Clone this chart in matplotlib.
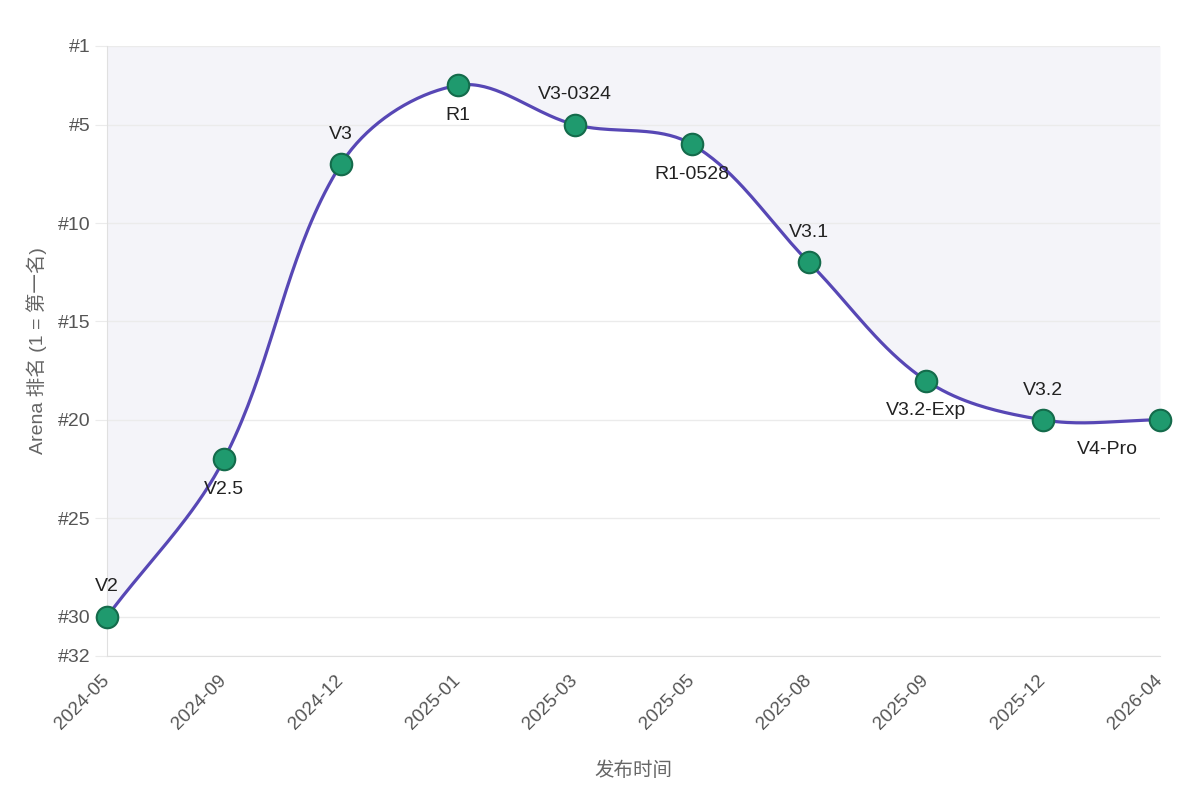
import numpy as np
import matplotlib
matplotlib.use('Agg')
import matplotlib.pyplot as plt

plt.rcParams['font.family'] = ['Liberation Sans', 'Noto Sans CJK SC', 'DejaVu Sans']

dates = ['2024-05', '2024-09', '2024-12', '2025-01', '2025-03', '2025-05',
         '2025-08', '2025-09', '2025-12', '2026-04']
models = ['V2', 'V2.5', 'V3', 'R1', 'V3-0324', 'R1-0528', 'V3.1', 'V3.2-Exp', 'V3.2', 'V4-Pro']
ranks = [30, 22, 7, 3, 5, 6, 12, 18, 20, 20]
label_above = [True, False, True, False, True, False, True, False, True, False]
yticks = [1, 5, 10, 15, 20, 25, 30, 32]

line_col = '#5747b5'
dot_col = '#1f9a6e'
dot_edge = '#146b4b'
fill_col = '#f4f4f9'


def smooth_curve(xs, ys, sx, sy, smooth=0.35, n=40):
    # bezier smoothing with tension, done in pixel-ish space
    px = np.array(xs, float) * sx
    py = np.array(ys, float) * sy
    m = len(px)
    cps = []
    for i in range(m):
        pi = max(i - 1, 0)
        ni = min(i + 1, m - 1)
        dx = px[ni] - px[pi]
        dy = py[ni] - py[pi]
        lp = np.hypot(px[i] - px[pi], py[i] - py[pi])
        ln = np.hypot(px[ni] - px[i], py[ni] - py[i])
        r = ln / (ln + lp) if (ln + lp) > 0 else 0.5
        c0 = (px[i] - dx * smooth * (1 - r), py[i] - dy * smooth * (1 - r))
        c1 = (px[i] + dx * smooth * r, py[i] + dy * smooth * r)
        cps.append((c0, c1))
    outx, outy = [], []
    t = np.linspace(0, 1, n)
    for i in range(m - 1):
        p0 = np.array([px[i], py[i]])
        p1 = np.array(cps[i][1])
        p2 = np.array(cps[i + 1][0])
        p3 = np.array([px[i + 1], py[i + 1]])
        b = ((1 - t) ** 3)[:, None] * p0 + (3 * (1 - t) ** 2 * t)[:, None] * p1 \
            + (3 * (1 - t) * t ** 2)[:, None] * p2 + (t ** 3)[:, None] * p3
        outx.extend(b[:, 0])
        outy.extend(b[:, 1])
    return np.array(outx) / sx, np.array(outy) / sy


fig = plt.figure(figsize=(12, 8), dpi=100)
ax = fig.add_axes([107 / 1200, 1 - 656 / 800, (1160 - 107) / 1200, (656 - 46) / 800])

x = np.arange(len(dates))
cx, cy = smooth_curve(x, ranks, 117.0, 19.68)

ax.fill_between(cx, cy, 1, color=fill_col, zorder=1, linewidth=0)
ax.plot(cx, cy, color=line_col, lw=2.3, zorder=3)
ax.plot(x, ranks, 'o', ms=15.5, mfc=dot_col, mec=dot_edge, mew=1.5, zorder=4, clip_on=False)

for i, (xi, yi, name, up) in enumerate(zip(x, ranks, models, label_above)):
    if i == len(models) - 1:
        ax.annotate(name, (xi, yi), xytext=(-16, -21.5), textcoords='offset points',
                    ha='right', va='center', fontsize=14, color='#222222', zorder=5)
    else:
        ax.annotate(name, (xi, yi), xytext=(0, 21.5 if up else -21.5), textcoords='offset points',
                    ha='center', va='center', fontsize=14, color='#222222', zorder=5)

ax.set_xlim(0, len(dates) - 1)
ax.set_ylim(32, 1)
ax.set_yticks(yticks)
ax.set_yticklabels(['#' + str(v) for v in yticks])
ax.set_xticks(x)
ax.set_xticklabels(dates, rotation=45, ha='right', va='center', rotation_mode='anchor')

ax.grid(axis='y', color='#ebebeb', lw=1, zorder=0)
for s in ['top', 'right']:
    ax.spines[s].set_visible(False)
for s in ['left', 'bottom']:
    ax.spines[s].set_color('#e0e0e0')
ax.tick_params(axis='y', length=9, color='#ebebeb', labelsize=14, labelcolor='#555555', pad=3)
ax.tick_params(axis='x', length=0, labelsize=13.5, labelcolor='#555555', pad=16)

ax.set_ylabel('Arena 排名 (1 = 第一名)', fontsize=14, color='#666666', labelpad=8)
ax.set_xlabel('发布时间', fontsize=14, color='#666666', labelpad=20)

fig.savefig('out.png', dpi=100)
